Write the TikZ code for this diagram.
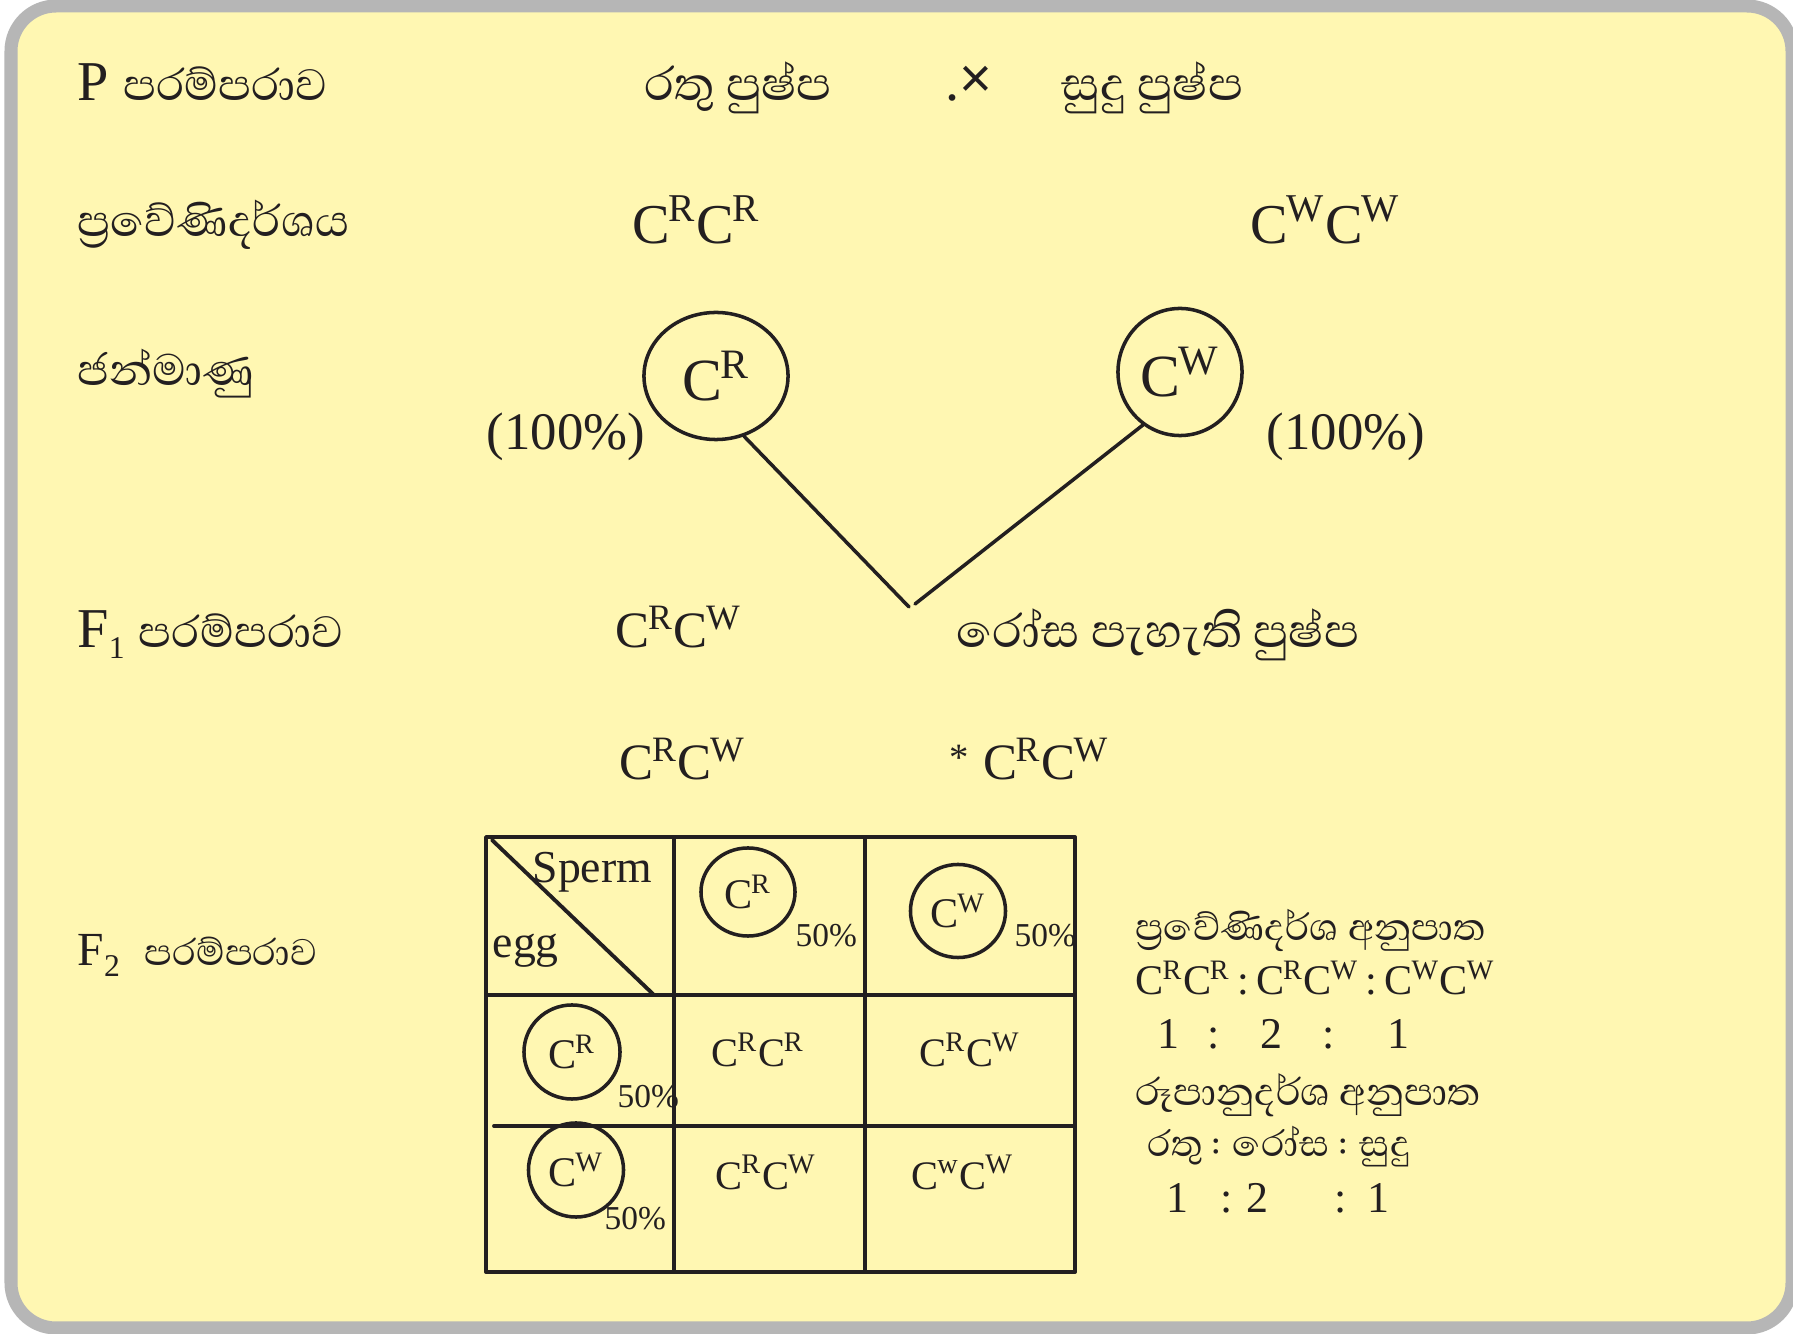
\documentclass[tikz,border=0pt]{standalone}
\usepackage{fontspec}
\setmainfont{Liberation Serif}
\newfontfamily\sinhf[Script=Sinhala]{Abhaya Libre}
\newfontfamily\sansf{Liberation Sans}
\usetikzlibrary{shapes.geometric}
\definecolor{nenvang}{RGB}{255,247,178}
\definecolor{vienxam}{RGB}{182,182,182}
\definecolor{mauchu}{RGB}{35,31,32}
\newcommand{\Cg}[1]{C\kern-0.03em\textsuperscript{#1}}
\newcommand{\chiso}[1]{\raisebox{-3pt}{\fontsize{9}{9}\selectfont #1}}
\begin{document}
\begin{tikzpicture}[x=0.01cm,y=-0.01cm,line join=round,line cap=round,
	chu/.style={anchor=base west,inner sep=0pt,text=mauchu},
	lon/.style={chu,font=\fontsize{16}{19}\selectfont},
	vua/.style={chu,font=\fontsize{14.5}{17}\selectfont},
	nho/.style={chu,font=\fontsize{11.5}{14}\selectfont},
	tile/.style={chu,font=\fontsize{9.5}{11}\selectfont},
	giaotu/.style={draw=mauchu,ellipse,inner sep=0pt,line width=1pt,text=mauchu}]
	\useasboundingbox (0,0) rectangle (1793,1334);
	\draw[vienxam,fill=nenvang,line width=0.13cm,rounded corners=0.45cm] (11,6) rectangle (1792,1328);
	%Thế hệ P
	\node[lon] (P) at (77,101) {P {\sinhf පරම්පරාව}};
	\node[lon,font=\fontsize{17}{19}\selectfont] (do) at (644,101) {\sinhf රතු පුෂ්ප};
	\node[lon] (nhan) at (945,101) {.\raisebox{1pt}{\sansf ×}};
	\node[lon,font=\fontsize{17}{19}\selectfont] (trang) at (1061,101) {\sinhf සුදු පුෂ්ප};
	%Kiểu gen
	\node[lon] (kg) at (77,237) {\sinhf ප්^^^^200dරවේණිදර්ශය};
	\node[lon] (RR) at (632,244) {\Cg{R}\Cg{R}};
	\node[lon] (WW) at (1250,244) {\Cg{W}\Cg{W}};
	%Giao tử
	\node[lon] (gt) at (77,386) {\sinhf ජන්මාණු};
	\node[giaotu,minimum width=1.44cm,minimum height=1.27cm,font=\fontsize{17}{20}\selectfont] (gR) at (716,376) {\Cg{R}};
	\node[giaotu,minimum width=1.24cm,minimum height=1.27cm,font=\fontsize{17}{20}\selectfont] (gW) at (1180,372) {\Cg{W}};
	\node[lon,font=\fontsize{15}{18}\selectfont] (pR) at (486,450) {(100\%)};
	\node[lon,font=\fontsize{15}{18}\selectfont] (pW) at (1266,450) {(100\%)};
	\path (909,607) coordinate (joinL) (915,604) coordinate (joinR);
	\draw[mauchu,line width=1pt] (gR.-65)--(joinL) (gW.-125)--(joinR);
	%Thế hệ F1
	\node[lon] (F1) at (77,648) {F\chiso{1} {\sinhf පරම්පරාව}};
	\node[vua] (RW) at (615,648) {\Cg{R}\Cg{W}};
	\node[lon,font=\fontsize{17}{19}\selectfont] (hong) at (956,648) {\sinhf රෝස පැහැති පුෂ්ප};
	\node[vua] (RWa) at (619,780) {\Cg{R}\Cg{W}};
	\node[vua] (RWb) at (949,780) {{\fontsize{11}{11}\selectfont\raisebox{2.6pt}{*}}\hspace{4pt}\Cg{R}\Cg{W}};
	%Thế hệ F2
	\node[vua,font=\fontsize{13.5}{16}\selectfont] (F2) at (77,966) {F\chiso{2}\hspace{7pt}{\sinhf පරම්පරාව}};
	%Bảng Punnett
	\draw[mauchu,line width=1.1pt] (486,837) rectangle (1075,1272);
	\foreach \x in {674,865} \draw[mauchu,line width=1.1pt] (\x,837)--(\x,1272);
	\draw[mauchu,line width=1.1pt] (486,995)--(1075,995) (494,1126)--(1075,1126);
	\draw[mauchu,line width=1.1pt] (492,840)--(654,995);
	\node[nho,font=\fontsize{13}{15}\selectfont] (sperm) at (532,883) {Sperm};
	\node[nho,font=\fontsize{13}{15}\selectfont] (egg) at (492,958) {egg};
	\node[giaotu,minimum width=0.94cm,minimum height=0.88cm,font=\fontsize{12}{14}\selectfont] (sR) at (748,892) {\Cg{R}};
	\node[giaotu,minimum width=0.95cm,minimum height=0.93cm,font=\fontsize{12}{14}\selectfont] (sW) at (958,911) {\Cg{W}};
	\node[giaotu,minimum width=0.96cm,minimum height=0.94cm,font=\fontsize{12}{14}\selectfont] (eR) at (572,1052) {\Cg{R}};
	\node[giaotu,minimum width=0.95cm,minimum height=0.94cm,font=\fontsize{12}{14}\selectfont] (eW) at (576,1170) {\Cg{W}};
	\node[tile] (t1) at (795,947) {50\%};
	\node[tile] (t2) at (1014,947) {50\%};
	\node[tile] (t3) at (617,1108) {50\%};
	\node[tile] (t4) at (604,1230) {50\%};
	\node[nho] (o11) at (711,1067) {\Cg{R}\Cg{R}};
	\node[nho] (o12) at (919,1067) {\Cg{R}\Cg{W}};
	\node[nho] (o21) at (715,1189) {\Cg{R}\Cg{W}};
	\node[nho] (o22) at (911,1189) {\Cg{w}\Cg{W}};
	%Tỉ lệ
	\node[nho,font=\fontsize{13.7}{15}\selectfont] (tlkg) at (1135,941) {\sinhf ප්^^^^200dරවේණිදර්ශ අනුපාත};
	\node[nho,font=\fontsize{12}{14}\selectfont] (kgl) at (1135,995) {\Cg{R}\Cg{R}\,:\,\Cg{R}\Cg{W}\,:\,\Cg{W}\Cg{W}};
	\node[nho,font=\fontsize{12.5}{14}\selectfont] (so1) at (1157,1049) {1\hspace{8pt}:\hspace{11.4pt}2\hspace{11.4pt}:\hspace{15pt}1};
	\node[nho,font=\fontsize{14}{15}\selectfont] (tlkh) at (1135,1106) {\sinhf රූපානුදර්ශ අනුපාත};
	\node[nho,font=\fontsize{13.3}{15}\selectfont] (khl) at (1147,1157) {\sinhf රතු : රෝස : සුදු};
	\node[nho,font=\fontsize{12.5}{14}\selectfont] (so2) at (1166,1212) {1\hspace{9pt}:\hspace{4pt}2\hspace{18.6pt}:\hspace{6pt}1};
\end{tikzpicture}
\end{document}
